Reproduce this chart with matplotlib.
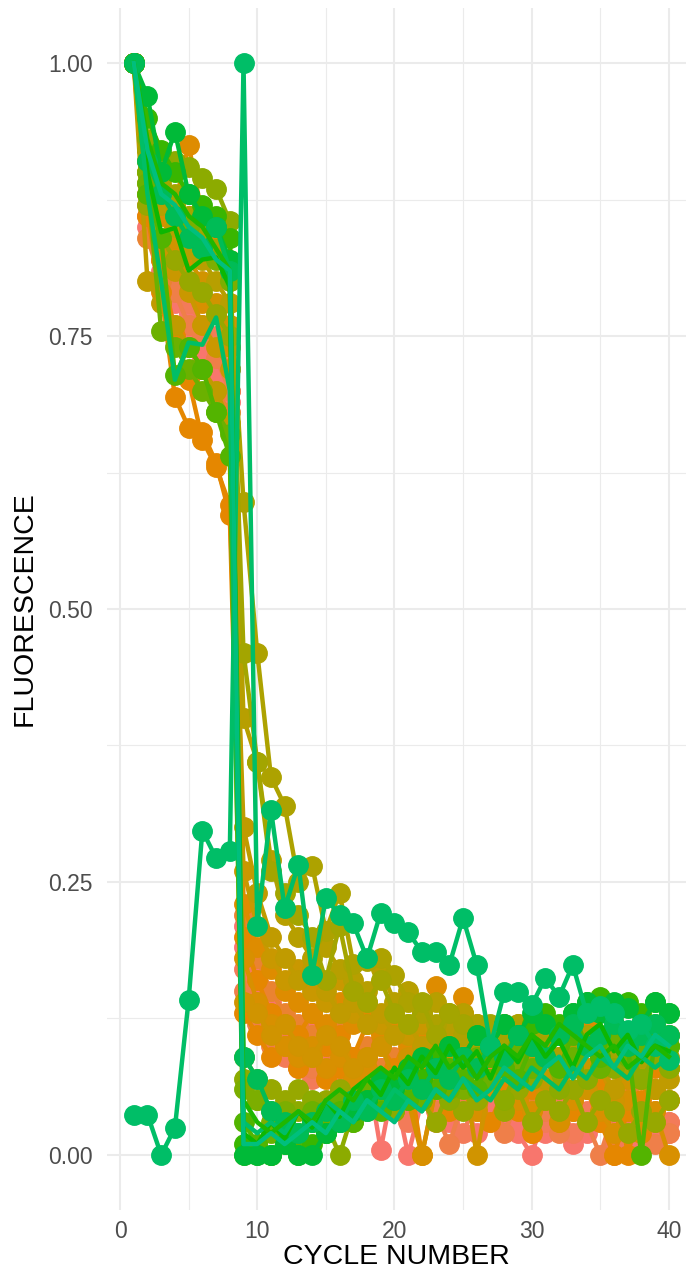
import numpy as np
import matplotlib.pyplot as plt

plt.rcParams['font.family'] = ['Liberation Sans', 'DejaVu Sans']

cycle = np.arange(1, 41)

# normalised fluorescence per well, cycles 1..40
s01 = [1.0, 0.86, 0.81, 0.78, 0.77, 0.74, 0.72, 0.70, 0.19, 0.15, 0.12, 0.10, 0.11, 0.09, 0.08, 0.07, 0.06, 0.08, 0.005, 0.07,
       0.04, 0.06, 0.05, 0.03, 0.06, 0.04, 0.05, 0.03, 0.02, 0.0, 0.04, 0.03, 0.05, 0.02, 0.04, 0.03, 0.02, 0.03, 0.02, 0.03]
s02 = [1.0, 0.85, 0.80, 0.79, 0.75, 0.73, 0.71, 0.69, 0.21, 0.17, 0.14, 0.12, 0.10, 0.12, 0.09, 0.10, 0.08, 0.07, 0.06, 0.06,
       0.0, 0.05, 0.03, 0.07, 0.05, 0.02, 0.04, 0.06, 0.03, 0.05, 0.02, 0.04, 0.01, 0.03, 0.05, 0.02, 0.04, 0.01, 0.03, 0.02]
s03 = [1.0, 0.88, 0.83, 0.80, 0.78, 0.76, 0.75, 0.72, 0.17, 0.13, 0.11, 0.09, 0.08, 0.07, 0.09, 0.06, 0.05, 0.07, 0.06, 0.04,
       0.03, 0.05, 0.07, 0.04, 0.02, 0.05, 0.03, 0.04, 0.06, 0.02, 0.03, 0.05, 0.02, 0.04, 0.03, 0.01, 0.03, 0.02, 0.04, 0.03]
s04 = [1.0, 0.87, 0.82, 0.79, 0.76, 0.75, 0.73, 0.70, 0.15, 0.12, 0.10, 0.11, 0.09, 0.08, 0.10, 0.07, 0.09, 0.06, 0.08, 0.05,
       0.07, 0.06, 0.04, 0.01, 0.05, 0.04, 0.07, 0.02, 0.05, 0.03, 0.04, 0.02, 0.05, 0.03, 0.0, 0.04, 0.02, 0.03, 0.01, 0.02]
s05 = [1.0, 0.84, 0.80, 0.76, 0.74, 0.72, 0.70, 0.68, 0.22, 0.18, 0.15, 0.13, 0.12, 0.11, 0.10, 0.12, 0.09, 0.10, 0.08, 0.09,
       0.07, 0.08, 0.06, 0.10, 0.07, 0.05, 0.08, 0.06, 0.09, 0.05, 0.07, 0.08, 0.04, 0.06, 0.07, 0.0, 0.06, 0.04, 0.06, 0.05]
s06 = [1.0, 0.86, 0.79, 0.694, 0.666, 0.662, 0.634, 0.586, 0.13, 0.11, 0.09, 0.10, 0.08, 0.09, 0.07, 0.08, 0.06, 0.09, 0.07, 0.05,
       0.08, 0.0, 0.06, 0.04, 0.07, 0.05, 0.03, 0.06, 0.04, 0.02, 0.05, 0.03, 0.04, 0.06, 0.03, 0.0, 0.04, 0.02, 0.03, 0.05]
s07 = [1.0, 0.89, 0.82, 0.75, 0.71, 0.655, 0.63, 0.595, 0.20, 0.16, 0.13, 0.12, 0.11, 0.13, 0.10, 0.11, 0.09, 0.12, 0.10, 0.08,
       0.11, 0.09, 0.08, 0.10, 0.13, 0.09, 0.07, 0.10, 0.08, 0.06, 0.09, 0.07, 0.10, 0.08, 0.06, 0.09, 0.0, 0.05, 0.08, 0.11]
s08 = [1.0, 0.92, 0.90, 0.87, 0.925, 0.86, 0.84, 0.81, 0.23, 0.19, 0.17, 0.15, 0.14, 0.13, 0.12, 0.14, 0.12, 0.13, 0.11, 0.12,
       0.10, 0.11, 0.155, 0.10, 0.145, 0.11, 0.09, 0.12, 0.10, 0.09, 0.11, 0.08, 0.10, 0.12, 0.09, 0.08, 0.10, 0.07, 0.09, 0.08]
s09 = [1.0, 0.90, 0.86, 0.83, 0.80, 0.78, 0.77, 0.74, 0.18, 0.14, 0.12, 0.10, 0.09, 0.10, 0.08, 0.09, 0.07, 0.08, 0.06, 0.07,
       0.05, 0.0, 0.06, 0.05, 0.07, 0.04, 0.06, 0.08, 0.05, 0.04, 0.06, 0.03, 0.05, 0.07, 0.04, 0.02, 0.05, 0.03, 0.04, 0.0]
s10 = [1.0, 0.91, 0.87, 0.84, 0.82, 0.80, 0.78, 0.76, 0.14, 0.13, 0.11, 0.12, 0.10, 0.09, 0.11, 0.10, 0.08, 0.09, 0.10, 0.07,
       0.09, 0.08, 0.06, 0.09, 0.08, 0.0, 0.07, 0.09, 0.06, 0.08, 0.05, 0.07, 0.09, 0.06, 0.08, 0.05, 0.07, 0.09, 0.06, 0.08]
s11 = [1.0, 0.88, 0.84, 0.81, 0.79, 0.76, 0.74, 0.72, 0.26, 0.21, 0.18, 0.16, 0.17, 0.15, 0.14, 0.16, 0.13, 0.14, 0.12, 0.13,
       0.11, 0.12, 0.10, 0.11, 0.12, 0.10, 0.09, 0.11, 0.10, 0.08, 0.10, 0.09, 0.11, 0.08, 0.09, 0.10, 0.08, 0.07, 0.09, 0.08]
s12 = [1.0, 0.80, 0.78, 0.76, 0.74, 0.72, 0.70, 0.67, 0.30, 0.24, 0.20, 0.18, 0.16, 0.17, 0.15, 0.13, 0.14, 0.12, 0.13, 0.11,
       0.12, 0.10, 0.11, 0.09, 0.10, 0.11, 0.09, 0.10, 0.08, 0.09, 0.07, 0.08, 0.10, 0.07, 0.08, 0.06, 0.08, 0.07, 0.06, 0.07]
s13 = [1.0, 0.90, 0.87, 0.85, 0.83, 0.82, 0.80, 0.78, 0.40, 0.36, 0.27, 0.22, 0.20, 0.18, 0.19, 0.17, 0.16, 0.15, 0.17, 0.14,
       0.15, 0.13, 0.14, 0.12, 0.13, 0.12, 0.11, 0.10, 0.12, 0.11, 0.10, 0.09, 0.11, 0.10, 0.08, 0.09, 0.10, 0.08, 0.09, 0.08]
s14 = [1.0, 0.91, 0.89, 0.87, 0.86, 0.84, 0.83, 0.80, 0.598, 0.46, 0.346, 0.32, 0.25, 0.265, 0.205, 0.24, 0.175, 0.178, 0.18, 0.165,
       0.14, 0.13, 0.12, 0.13, 0.11, 0.12, 0.10, 0.11, 0.12, 0.10, 0.11, 0.09, 0.10, 0.11, 0.09, 0.10, 0.08, 0.09, 0.10, 0.09]
s15 = [1.0, 0.92, 0.90, 0.88, 0.86, 0.85, 0.83, 0.82, 0.46, 0.36, 0.26, 0.24, 0.22, 0.20, 0.16, 0.21, 0.15, 0.14, 0.16, 0.13,
       0.12, 0.14, 0.11, 0.13, 0.12, 0.10, 0.12, 0.11, 0.09, 0.12, 0.10, 0.11, 0.09, 0.10, 0.11, 0.09, 0.08, 0.10, 0.09, 0.10]
s16 = [1.0, 0.87, 0.84, 0.82, 0.80, 0.79, 0.77, 0.75, 0.09, 0.07, 0.06, 0.05, 0.06, 0.04, 0.05, 0.06, 0.04, 0.05, 0.07, 0.04,
       0.06, 0.05, 0.03, 0.06, 0.04, 0.05, 0.07, 0.04, 0.06, 0.03, 0.05, 0.04, 0.06, 0.03, 0.05, 0.04, 0.02, 0.04, 0.03, 0.05]
s17 = [1.0, 0.93, 0.915, 0.91, 0.905, 0.895, 0.885, 0.855, 0.07, 0.05, 0.04, 0.03, 0.04, 0.05, 0.03, 0.0, 0.04, 0.05, 0.06, 0.04,
       0.05, 0.07, 0.06, 0.05, 0.08, 0.06, 0.07, 0.05, 0.08, 0.07, 0.09, 0.06, 0.08, 0.07, 0.09, 0.08, 0.10, 0.07, 0.09, 0.08]
s18 = [1.0, 0.90, 0.88, 0.86, 0.85, 0.83, 0.82, 0.80, 0.06, 0.05, 0.03, 0.04, 0.02, 0.03, 0.04, 0.05, 0.03, 0.04, 0.06, 0.05,
       0.07, 0.06, 0.08, 0.07, 0.06, 0.08, 0.07, 0.09, 0.08, 0.10, 0.09, 0.11, 0.08, 0.10, 0.09, 0.11, 0.10, 0.12, 0.10, 0.11]
s19 = [1.0, 0.89, 0.755, 0.74, 0.72, 0.70, 0.68, 0.66, 0.0, 0.01, 0.02, 0.03, 0.02, 0.04, 0.03, 0.05, 0.04, 0.06, 0.05, 0.07,
       0.06, 0.05, 0.08, 0.06, 0.07, 0.09, 0.07, 0.08, 0.10, 0.08, 0.09, 0.11, 0.09, 0.10, 0.08, 0.11, 0.09, 0.10, 0.12, 0.10]
s20 = [1.0, 0.88, 0.84, 0.714, 0.74, 0.72, 0.68, 0.64, 0.03, 0.01, 0.0, 0.02, 0.01, 0.03, 0.02, 0.04, 0.03, 0.05, 0.04, 0.06,
       0.05, 0.07, 0.06, 0.08, 0.07, 0.06, 0.09, 0.08, 0.07, 0.10, 0.09, 0.08, 0.11, 0.10, 0.09, 0.12, 0.10, 0.0, 0.11, 0.10]
s21 = [1.0, 0.95, 0.92, 0.90, 0.88, 0.87, 0.86, 0.84, 0.01, 0.0, 0.0, 0.01, 0.0, 0.01, 0.02, 0.03, 0.04, 0.05, 0.06, 0.07,
       0.08, 0.07, 0.09, 0.10, 0.09, 0.11, 0.10, 0.12, 0.11, 0.12, 0.13, 0.12, 0.13, 0.14, 0.145, 0.13, 0.14, 0.13, 0.14, 0.13]
s22 = [1.0, 0.97, 0.90, 0.937, 0.88, 0.86, 0.85, 0.82, 0.0, 0.0, 0.0, 0.01, 0.0, 0.0, 0.02, 0.03, 0.04, 0.05, 0.07, 0.06,
       0.08, 0.09, 0.08, 0.10, 0.09, 0.11, 0.10, 0.12, 0.11, 0.13, 0.12, 0.11, 0.13, 0.14, 0.13, 0.14, 0.135, 0.12, 0.14, 0.13]
s23 = [1.0, 0.91, 0.88, 0.86, 0.84, 0.83, 0.85, 0.81, 0.09, 0.07, 0.04, 0.03, 0.02, 0.03, 0.04, 0.03, 0.05, 0.04, 0.06, 0.05,
       0.07, 0.06, 0.08, 0.07, 0.09, 0.08, 0.10, 0.09, 0.11, 0.10, 0.09, 0.11, 0.12, 0.10, 0.11, 0.12, 0.10, 0.11, 0.12, 0.11]
s24 = [0.037, 0.037, 0.0, 0.025, 0.142, 0.297, 0.272, 0.278, 1.0, 0.21, 0.316, 0.226, 0.266, 0.165, 0.235, 0.22, 0.212, 0.18, 0.222, 0.212,
       0.204, 0.186, 0.186, 0.174, 0.217, 0.174, 0.10, 0.149, 0.149, 0.137, 0.162, 0.145, 0.174, 0.13, 0.136, 0.13, 0.114, 0.12, 0.10, 0.087]

# wells drawn as line only
l01 = [1.0, 0.90, 0.845, 0.849, 0.81, 0.82, 0.822, 0.795, 0.02, 0.01, 0.03, 0.015, 0.04, 0.025, 0.05, 0.035, 0.06, 0.07, 0.055, 0.08,
       0.065, 0.09, 0.075, 0.10, 0.08, 0.095, 0.07, 0.10, 0.085, 0.11, 0.09, 0.105, 0.08, 0.11, 0.12, 0.095, 0.11, 0.085, 0.10, 0.095]
l02 = [1.0, 0.88, 0.80, 0.71, 0.744, 0.742, 0.767, 0.70, 0.03, 0.02, 0.03, 0.02, 0.04, 0.03, 0.05, 0.04, 0.03, 0.05, 0.04, 0.06,
       0.05, 0.04, 0.06, 0.05, 0.07, 0.06, 0.05, 0.07, 0.06, 0.08, 0.07, 0.06, 0.08, 0.07, 0.09, 0.08, 0.07, 0.09, 0.08, 0.09]
l03 = [1.0, 0.93, 0.89, 0.88, 0.86, 0.85, 0.83, 0.81, 0.05, 0.03, 0.02, 0.03, 0.04, 0.03, 0.05, 0.06, 0.05, 0.07, 0.08, 0.07,
       0.09, 0.08, 0.10, 0.08, 0.09, 0.07, 0.09, 0.10, 0.09, 0.11, 0.10, 0.12, 0.11, 0.10, 0.09, 0.10, 0.08, 0.09, 0.10, 0.09]
l04 = [1.0, 0.92, 0.88, 0.87, 0.85, 0.84, 0.82, 0.81, 0.01, 0.01, 0.02, 0.01, 0.02, 0.03, 0.02, 0.04, 0.03, 0.05, 0.04, 0.03,
       0.05, 0.04, 0.06, 0.05, 0.07, 0.05, 0.06, 0.08, 0.07, 0.06, 0.08, 0.09, 0.07, 0.09, 0.10, 0.08, 0.10, 0.09, 0.11, 0.10]

wells = [s01, s02, s03, s04, s05, s06, s07, s08, s09, s10, s11, s12,
         s13, s14, s15, s16, s17, s18, s19, s20, s21, s22, s23, s24]
well_colors = ['#F8766D', '#F8766D', '#F37B59', '#EF7F49', '#EA8331', '#E58700',
               '#E58700', '#DE8C00', '#D89000', '#D09400', '#C99800', '#C09B00',
               '#B79F00', '#ADA200', '#A3A500', '#97A800', '#8CAB00', '#7CAE00',
               '#6BB100', '#53B400', '#39B600', '#00BA38', '#00BC56', '#00BE67']
lines_only = [l01, l02, l03, l04]
line_colors = ['#0CB702', '#00BE67', '#1FB700', '#00BF7D']

fig = plt.figure(figsize=(6.86, 12.74), dpi=100)
ax = fig.add_axes([107 / 686, 64 / 1274, 579 / 686, 1202 / 1274])

for vals, col in zip(wells, well_colors):
    ax.plot(cycle, vals, color=col, lw=3.2, marker='o', ms=14, zorder=3)
for vals, col in zip(lines_only, line_colors):
    ax.plot(cycle, vals, color=col, lw=3.2, zorder=3)

ax.set_xlim(-0.95, 41.25)
ax.set_ylim(-0.0504, 1.0504)
ax.set_xticks([0, 10, 20, 30, 40])
ax.set_xticks([5, 15, 25, 35], minor=True)
ax.set_yticks([0, 0.25, 0.5, 0.75, 1.0])
ax.set_yticklabels(['0.00', '0.25', '0.50', '0.75', '1.00'])
ax.set_yticks([0.125, 0.375, 0.625, 0.875], minor=True)
ax.grid(which='major', color='#EBEBEB', lw=1.5, zorder=0)
ax.grid(which='minor', color='#EBEBEB', lw=0.8, zorder=0)
ax.set_axisbelow(True)
for sp in ax.spines.values():
    sp.set_visible(False)
ax.tick_params(which='both', length=0, labelsize=16.5, labelcolor='#4D4D4D')
ax.tick_params(axis='x', pad=7)
ax.tick_params(axis='y', pad=10)

ax.set_xlabel('CYCLE NUMBER', fontsize=20.5, labelpad=1)
ax.set_ylabel('FLUORESCENCE', fontsize=20.5, labelpad=8)

fig.savefig('out.png', dpi=100)
